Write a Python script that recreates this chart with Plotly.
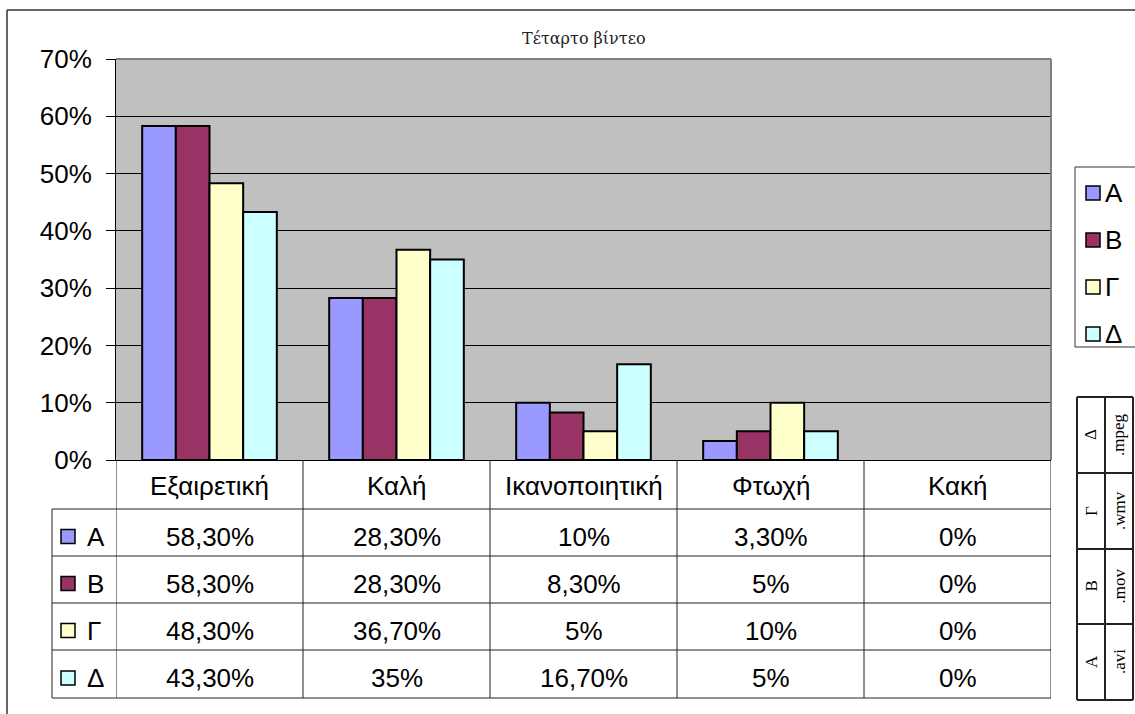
import plotly.graph_objects as go

# ---- data -------------------------------------------------------------
categories = ["Εξαιρετική", "Καλή", "Ικανοποιητική", "Φτωχή", "Κακή"]
series_names = ["Α", "Β", "Γ", "Δ"]
values_a = [0.583, 0.283, 0.100, 0.033, 0.0]
values_b = [0.583, 0.283, 0.083, 0.050, 0.0]
values_g = [0.483, 0.367, 0.050, 0.100, 0.0]
values_d = [0.433, 0.350, 0.167, 0.050, 0.0]
series_colors = ["#9999FF", "#993366", "#FFFFCC", "#CCFFFF"]
y_ticks = [0.0, 0.1, 0.2, 0.3, 0.4, 0.5, 0.6, 0.7]
format_letters = ["Δ", "Γ", "Β", "Α"]
format_names = [".mpeg", ".wmv", ".mov", ".avi"]
title_text = "Τέταρτο βίντεο"

series_values = [values_a, values_b, values_g, values_d]

# ---- page geometry (pixels) -------------------------------------------
W, H = 1135, 714
PLOT_L, PLOT_R, PLOT_T, PLOT_B = 116, 1051, 59, 460
TABLE_L = 52
ROW_Y = [460, 509, 556, 603, 650, 698]   # header row + 4 series rows
ROW_TEXT_DY = 4                          # series-row text sits a little low
SANS = "Liberation Sans, Arial, sans-serif"
SERIF = "Liberation Serif, Times New Roman, serif"
TITLE_FONT = "DejaVu Serif, serif"
LINE = "#222222"
TXT = 26


def px(x):
    return x / W


def py(y):
    return 1 - y / H


def pct_label(v):
    p = round(v * 100, 2)
    if abs(p - round(p)) < 1e-9:
        return f"{int(round(p))}%"
    return f"{p:.2f}".replace(".", ",") + "%"


def text(x, y, s, size, family=SANS, xref="paper", xanchor="center", angle=0, color="black"):
    return dict(xref=xref, yref="paper", x=x, y=y, text=s, showarrow=False,
                xanchor=xanchor, yanchor="middle", textangle=angle,
                font=dict(family=family, size=size, color=color))


fig = go.Figure()
for name, vals, col in zip(series_names, series_values, series_colors):
    fig.add_trace(go.Bar(
        name=name, x=categories, y=vals,
        marker=dict(color=col,
                    line=dict(color="black", width=[2 if v > 0 else 0 for v in vals])),
        showlegend=False, hoverinfo="skip",
    ))

shapes = []
annotations = []

# outer chart frame (continues past the page edges)
shapes.append(dict(type="line", xref="paper", yref="paper",
                   x0=px(7), x1=px(W + 10), y0=py(10), y1=py(10),
                   line=dict(color="#333333", width=1.5)))
shapes.append(dict(type="line", xref="paper", yref="paper",
                   x0=px(7), x1=px(7), y0=py(10), y1=py(H + 10),
                   line=dict(color="#333333", width=1.5)))

# grey plot-area border on top and right
shapes.append(dict(type="line", xref="paper", yref="paper", layer="above",
                   x0=px(PLOT_L), x1=px(PLOT_R), y0=py(PLOT_T), y1=py(PLOT_T),
                   line=dict(color="#808080", width=2)))
shapes.append(dict(type="line", xref="paper", yref="paper", layer="above",
                   x0=px(PLOT_R), x1=px(PLOT_R), y0=py(PLOT_T), y1=py(PLOT_B),
                   line=dict(color="#808080", width=2)))

# ---- data table below the axis ----------------------------------------
n = len(categories)
for i in range(n + 1):
    shapes.append(dict(type="line", xref="x", yref="paper",
                       x0=i - 0.5, x1=i - 0.5, y0=py(ROW_Y[0]), y1=py(ROW_Y[-1]),
                       line=dict(color=LINE, width=1)))
for yy in ROW_Y[1:]:
    shapes.append(dict(type="line", xref="paper", yref="paper",
                       x0=px(TABLE_L), x1=px(PLOT_R), y0=py(yy), y1=py(yy),
                       line=dict(color=LINE, width=1)))
shapes.append(dict(type="line", xref="paper", yref="paper",
                   x0=px(TABLE_L), x1=px(TABLE_L), y0=py(ROW_Y[1]), y1=py(ROW_Y[-1]),
                   line=dict(color=LINE, width=1)))

for i, cat in enumerate(categories):
    annotations.append(text(i, py((ROW_Y[0] + ROW_Y[1]) / 2 + 1), cat, TXT, xref="x"))

for r, (name, vals, col) in enumerate(zip(series_names, series_values, series_colors)):
    yc = (ROW_Y[r + 1] + ROW_Y[r + 2]) / 2
    ty = yc + ROW_TEXT_DY
    shapes.append(dict(type="rect", xref="paper", yref="paper",
                       x0=px(61), x1=px(75), y0=py(ty - 7), y1=py(ty + 7),
                       fillcolor=col, line=dict(color="black", width=1.5)))
    annotations.append(text(px(85), py(ty), name, TXT, xanchor="left"))
    for i, v in enumerate(vals):
        annotations.append(text(i, py(ty), pct_label(v), TXT, xref="x"))

# ---- legend box at the right -------------------------------------------
LEG_T, LEG_B, LEG_L = 167, 347, 1075
shapes.append(dict(type="rect", xref="paper", yref="paper",
                   x0=px(LEG_L), x1=px(W + 20), y0=py(LEG_T), y1=py(LEG_B),
                   line=dict(color="#333333", width=1)))
leg_y = [193, 240, 287, 334]
for name, col, yc in zip(series_names, series_colors, leg_y):
    shapes.append(dict(type="rect", xref="paper", yref="paper",
                       x0=px(1086), x1=px(1100), y0=py(yc - 7), y1=py(yc + 7),
                       fillcolor=col, line=dict(color="black", width=1.5)))
    annotations.append(text(px(1103), py(yc), name, TXT, xanchor="left"))

# ---- small rotated key table -------------------------------------------
KT_X = [1077, 1105, 1133]
KT_Y = [397, 473, 549, 624, 700]
for xx in KT_X:
    shapes.append(dict(type="line", xref="paper", yref="paper",
                       x0=px(xx), x1=px(xx), y0=py(KT_Y[0]), y1=py(KT_Y[-1]),
                       line=dict(color=LINE, width=2)))
for yy in KT_Y:
    shapes.append(dict(type="line", xref="paper", yref="paper",
                       x0=px(KT_X[0]), x1=px(KT_X[-1]), y0=py(yy), y1=py(yy),
                       line=dict(color=LINE, width=2)))
for r, (letter, fmt) in enumerate(zip(format_letters, format_names)):
    yc = (KT_Y[r] + KT_Y[r + 1]) / 2
    annotations.append(text(px((KT_X[0] + KT_X[1]) / 2), py(yc), letter, 17,
                            family=SERIF, angle=-90))
    annotations.append(text(px((KT_X[1] + KT_X[2]) / 2), py(yc), fmt, 17,
                            family=SERIF, angle=-90))

# ---- title ---------------------------------------------------------------
annotations.append(text(px((PLOT_L + PLOT_R) / 2), py(38), title_text, 16,
                        family=TITLE_FONT, color="#222222"))

fig.update_layout(
    template="none",
    width=W, height=H,
    margin=dict(l=0, r=0, t=0, b=0, pad=0, autoexpand=False),
    paper_bgcolor="white",
    plot_bgcolor="#C0C0C0",
    barmode="group",
    bargap=0.28,
    bargroupgap=0,
    showlegend=False,
    shapes=shapes,
    annotations=annotations,
    xaxis=dict(domain=[px(PLOT_L), px(PLOT_R)], range=[-0.5, n - 0.5],
               showticklabels=False, ticks="", showgrid=False, automargin=False,
               showline=True, linecolor="black", linewidth=1, zeroline=False),
    yaxis=dict(domain=[py(PLOT_B), py(PLOT_T)], range=[0, 0.7],
               tickvals=y_ticks, tickformat=".0%", automargin=False,
               ticks="outside", ticklen=9, tickcolor="black", tickwidth=1,
               showline=True, linecolor="black", linewidth=1,
               showgrid=True, gridcolor="black", gridwidth=1, zeroline=False,
               tickfont=dict(family=SANS, size=26, color="black"),
               ticklabelstandoff=9),
)

fig.write_html("out.html")
